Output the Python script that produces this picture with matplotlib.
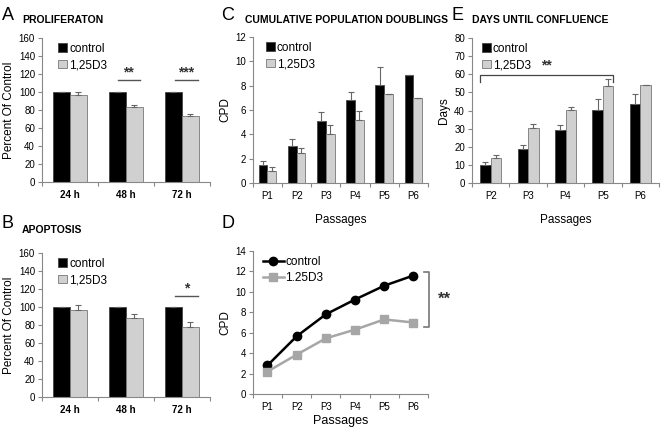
import numpy as np
import matplotlib
matplotlib.use('Agg')
from matplotlib import pyplot as plt

plt.rcParams['font.family'] = ['Liberation Sans', 'DejaVu Sans']

# panel A / B : percent of control
hours = ['24 h', '48 h', '72 h']
prolif_ctrl = [100, 100, 100]
prolif_d3 = [97, 83, 73.5]
prolif_d3_err = [3, 3, 2.5]
apop_ctrl = [100, 100, 100]
apop_d3 = [96.5, 87.5, 77.5]
apop_d3_err = [5.5, 5, 6]

# panel C : cumulative population doublings
passages = ['P1', 'P2', 'P3', 'P4', 'P5', 'P6']
cpd_ctrl = [1.45, 3.05, 5.1, 6.8, 8.05, 8.9]
cpd_ctrl_err = [0.35, 0.6, 0.7, 0.7, 1.5, 0]
cpd_d3 = [1.0, 2.5, 4.05, 5.15, 7.3, 7.0]
cpd_d3_err = [0.3, 0.4, 0.7, 0.75, 0, 0]

# panel D : CPD lines
line_ctrl = [2.8, 5.65, 7.8, 9.25, 10.6, 11.6]
line_d3 = [2.2, 3.85, 5.45, 6.3, 7.3, 7.0]

# panel E : days until confluence
passages_e = ['P2', 'P3', 'P4', 'P5', 'P6']
days_ctrl = [10.2, 19, 29.3, 40.2, 43.7]
days_ctrl_err = [1.2, 2, 2.8, 6, 5.5]
days_d3 = [13.8, 30.5, 40.5, 53.5, 54]
days_d3_err = [1.8, 2.2, 1.5, 4, 0]

axcol = '#888888'
gray = '#d0d0d0'
errcol = '#666666'

fig = plt.figure(figsize=(6.62, 4.29), dpi=100)


def style(ax, n, ymax, ystep, labels, bold=False):
    for s in ['top', 'right']:
        ax.spines[s].set_visible(False)
    for s in ['left', 'bottom']:
        ax.spines[s].set_color(axcol)
        ax.spines[s].set_linewidth(0.8)
    ax.set_xlim(-0.5, n - 0.5)
    ax.set_ylim(0, ymax)
    ax.set_yticks(np.arange(0, ymax + 0.01, ystep))
    ax.set_xticks(range(n))
    ax.set_xticklabels(labels, fontweight='bold' if bold else 'normal')
    ax.set_xticks(np.arange(-0.5, n, 1), minor=True)
    ax.tick_params(axis='x', which='major', length=0, labelsize=7, pad=6)
    ax.tick_params(axis='x', which='minor', length=3, color=axcol, width=0.8)
    ax.tick_params(axis='y', length=3, color=axcol, width=0.8, labelsize=7, pad=2)


def bars(ax, ctrl, d3, ctrl_err, d3_err, w, lx):
    x = np.arange(len(ctrl))
    ax.bar(x - w / 2, ctrl, w, color='black', edgecolor='#444444', linewidth=0.6, label='control')
    ax.bar(x + w / 2, d3, w, color=gray, edgecolor='#777777', linewidth=0.6, label='1,25D3')
    ax.errorbar(x - w / 2, ctrl, yerr=[np.zeros(len(ctrl)), ctrl_err], fmt='none',
                ecolor=errcol, elinewidth=0.8, capsize=2, capthick=0.8)
    ax.errorbar(x + w / 2, d3, yerr=[np.zeros(len(d3)), d3_err], fmt='none',
                ecolor=errcol, elinewidth=0.8, capsize=2, capthick=0.8)
    ax.legend(loc='upper left', frameon=False, fontsize=8.5, handlelength=0.7,
              handleheight=0.7, handletextpad=0.2, labelspacing=0.4,
              borderaxespad=0.0, bbox_to_anchor=(lx, 1.0))


# A
axA = fig.add_axes([0.0634, 0.5758, 0.2536, 0.3356])
bars(axA, prolif_ctrl, prolif_d3, [0, 0, 0], prolif_d3_err, 0.3, 0.07)
style(axA, 3, 160, 20, hours, bold=True)
axA.set_ylabel('Percent Of Control', fontsize=8.5, labelpad=3)
for xc, st in [(1.05, '**'), (2.08, '***')]:
    axA.plot([xc - 0.2, xc + 0.2], [113, 113], color='#555555', lw=1)
    axA.text(xc, 114, st, ha='center', va='bottom', fontsize=10, fontweight='bold', color='#333333')

# B
axB = fig.add_axes([0.0634, 0.0746, 0.2536, 0.3357])
bars(axB, apop_ctrl, apop_d3, [0, 0, 0], apop_d3_err, 0.3, 0.07)
style(axB, 3, 160, 20, hours, bold=True)
axB.set_ylabel('Percent Of Control', fontsize=8.5, labelpad=3)
axB.plot([1.88, 2.28], [112, 112], color='#555555', lw=1)
axB.text(2.08, 113, '*', ha='center', va='bottom', fontsize=10, fontweight='bold', color='#333333')

# C
axC = fig.add_axes([0.382, 0.5734, 0.2645, 0.3404])
bars(axC, cpd_ctrl, cpd_d3, cpd_ctrl_err, cpd_d3_err, 0.3, 0.05)
style(axC, 6, 12, 2, passages)
axC.set_ylabel('CPD', fontsize=8.5, labelpad=3)
axC.set_xlabel('Passages', fontsize=8.5, labelpad=9)

# D
axD = fig.add_axes([0.382, 0.0816, 0.2645, 0.3333])
style(axD, 6, 14, 2, passages)
axD.plot(range(6), line_ctrl, color='black', lw=1.8, marker='o', ms=6, label='control')
axD.plot(range(6), line_d3, color='#a6a6a6', lw=1.8, marker='s', ms=5.5, label='1.25D3')
axD.set_ylabel('CPD', fontsize=8.5, labelpad=3)
axD.set_xlabel('Passages', fontsize=9, labelpad=2)
axD.legend(loc='upper left', frameon=False, fontsize=8.5, handlelength=1.8,
           handletextpad=0.1, labelspacing=0.4, borderaxespad=0.0, bbox_to_anchor=(0.03, 1.0))
axD.plot([5.35, 5.55, 5.55, 5.35], [11.94, 11.94, 6.56, 6.56], color='#777777', lw=1.2, clip_on=False)
axD.text(6.05, 9.25, '**', ha='center', va='center', fontsize=12, fontweight='bold', color='#333333')

# E
axE = fig.add_axes([0.713, 0.5734, 0.2825, 0.338])
bars(axE, days_ctrl, days_d3, days_ctrl_err, days_d3_err, 0.28, 0.03)
style(axE, 5, 80, 10, passages_e)
axE.set_ylabel('Days', fontsize=8.5, labelpad=3)
axE.set_xlabel('Passages', fontsize=8.5, labelpad=9)
axE.plot([-0.28, -0.28, 3.28, 3.28], [55.7, 59.6, 59.6, 55.7], color='#444444', lw=0.9)
axE.text(1.5, 61, '**', ha='center', va='bottom', fontsize=10, fontweight='bold', color='#333333')

# panel letters and titles
for lx, ly, let in [(0.003, 0.965, 'A'), (0.003, 0.48, 'B'), (0.334, 0.965, 'C'),
                    (0.334, 0.48, 'D'), (0.682, 0.965, 'E')]:
    fig.text(lx, ly, let, fontsize=13, va='center')
for tx, ty, t in [(0.033, 0.953, 'PROLIFERATON'), (0.033, 0.465, 'APOPTOSIS'),
                  (0.370, 0.953, 'CUMULATIVE POPULATION DOUBLINGS'),
                  (0.713, 0.953, 'DAYS UNTIL CONFLUENCE')]:
    fig.text(tx, ty, t, fontsize=7.5, fontweight='bold', va='center')

fig.savefig('out.png', dpi=100)
